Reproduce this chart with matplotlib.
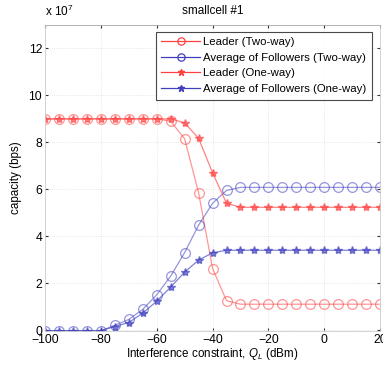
import numpy as np
import matplotlib
matplotlib.use('Agg')
import matplotlib.pyplot as plt

plt.rcParams['font.family'] = ['Liberation Sans', 'DejaVu Sans']
plt.rcParams['mathtext.fontset'] = 'custom'
plt.rcParams['mathtext.it'] = 'Liberation Sans:italic'
plt.rcParams['mathtext.rm'] = 'Liberation Sans'

# interference constraint Q_L (dBm)
q_l = list(range(-100, 25, 5))

# capacities in units of 1e7 bps
leader_two = [9.0, 9.0, 9.0, 9.0, 9.0, 9.0, 9.0, 9.0, 9.0, 8.9, 8.15, 5.85, 2.62, 1.25,
              1.1, 1.1, 1.1, 1.1, 1.1, 1.1, 1.1, 1.1, 1.1, 1.1, 1.1]
follow_two = [-0.03, -0.03, -0.03, -0.03, -0.03, 0.2, 0.45, 0.88, 1.5, 2.3, 3.3, 4.47, 5.4, 5.95,
              6.08, 6.08, 6.08, 6.08, 6.08, 6.08, 6.08, 6.08, 6.08, 6.08, 6.08]
leader_one = [9.0, 9.0, 9.0, 9.0, 9.0, 9.0, 9.0, 9.0, 9.0, 9.0, 8.83, 8.17, 6.7, 5.4,
              5.23, 5.23, 5.23, 5.23, 5.23, 5.23, 5.23, 5.23, 5.23, 5.23, 5.23]
follow_one = [-0.03, -0.03, -0.03, -0.03, -0.03, 0.15, 0.32, 0.72, 1.23, 1.83, 2.47, 2.98, 3.29, 3.4,
              3.4, 3.4, 3.4, 3.4, 3.4, 3.4, 3.4, 3.4, 3.4, 3.4, 3.4]

series_names = ['Leader (Two-way)', 'Average of Followers (Two-way)',
                'Leader (One-way)', 'Average of Followers (One-way)']

red = (1.0, 0.25, 0.25)
blue = (0.25, 0.25, 0.75)

fig = plt.figure(figsize=(3.83, 3.68), dpi=100)
ax = fig.add_axes([0.1175, 0.1, 0.875, 0.832])

ax.plot(q_l, leader_two, color=red, lw=0.9, alpha=0.55, marker='o', ms=7,
        mfc='none', mec=red + (0.55,), mew=0.9, label=series_names[0])
ax.plot(q_l, follow_two, color=blue, lw=0.9, alpha=0.55, marker='o', ms=7,
        mfc='none', mec=blue + (0.55,), mew=0.9, label=series_names[1])
ax.plot(q_l, leader_one, color=red, lw=0.9, alpha=0.65, marker='*', ms=6,
        mec=red, mfc=red, label=series_names[2])
ax.plot(q_l, follow_one, color=blue, lw=0.9, alpha=0.65, marker='*', ms=6,
        mec=blue, mfc=blue, label=series_names[3])

ax.set_xlim(-100, 20)
ax.set_ylim(-0.05, 13)
ax.set_xticks(range(-100, 21, 20))
ax.set_yticks(range(0, 13, 2))
ax.tick_params(direction='in', length=2, labelsize=8.8, top=True, right=True,
               color='0.2', pad=2)
ax.grid(True, color='0.87', ls=':', lw=0.6)
for s in ax.spines.values():
    s.set_color('0.8')
    s.set_linewidth(0.6)
ax.spines['top'].set_color('0.65')

ax.set_title('smallcell #1', fontsize=8.5, pad=8)
ax.text(0.0, 1.02, r'x 10$^{7}$', transform=ax.transAxes, fontsize=8.5,
        ha='left', va='bottom')
ax.set_xlabel(r'Interference constraint, $Q_L$ (dBm)', fontsize=8.4, labelpad=0)
ax.set_ylabel('capacity (bps)', fontsize=8.4, labelpad=5)

leg = ax.legend(loc='upper right', fontsize=8.2, frameon=True, fancybox=False,
                borderpad=0.45, labelspacing=0.52, handlelength=3.4, markerscale=0.75,
                handletextpad=0.3, borderaxespad=0.3, bbox_to_anchor=(0.985, 0.99))
leg.get_frame().set_edgecolor('0.1')
leg.get_frame().set_linewidth(0.8)
for h in leg.get_lines():
    h.set_alpha(1.0)

plt.savefig('out.png', dpi=100)
